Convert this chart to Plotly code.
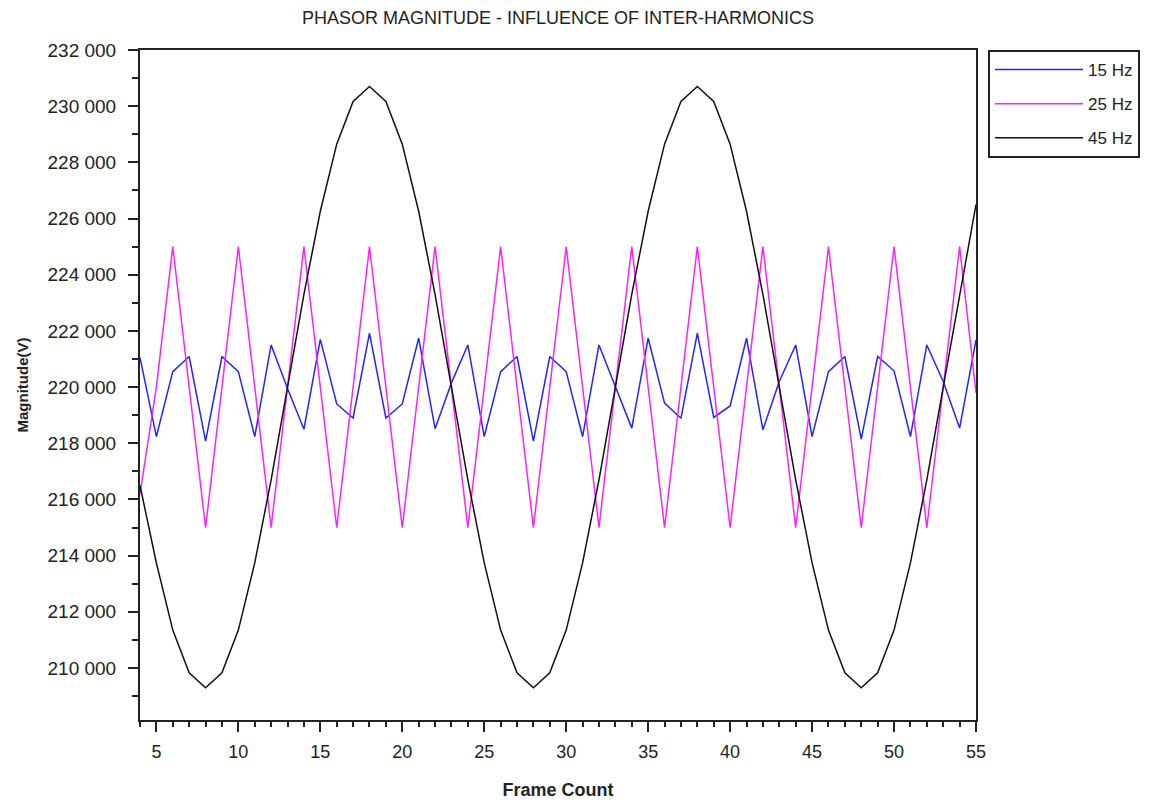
import plotly.graph_objects as go

frames = list(range(4, 56))

hz15 = [221050, 218240, 220550, 221090, 218080, 221090, 220550, 218240, 221500, 219950,
        218500, 221700, 219400, 218900, 221920, 218900, 219400, 221740, 218520, 220150,
        221500, 218240, 220550, 221090, 218080, 221090, 220550, 218240, 221500, 220020,
        218540, 221740, 219430, 218890, 221920, 218920, 219330, 221740, 218480, 220200,
        221500, 218240, 220550, 221090, 218150, 221090, 220580, 218240, 221500, 220200,
        218540, 221680]

hz25 = [216200, 220000, 225000, 220000, 215000, 220000, 225000, 220000, 215000, 220000,
        225000, 220000, 215000, 220000, 225000, 220000, 215000, 220000, 225000, 220000,
        215000, 220000, 225000, 220000, 215000, 220000, 225000, 220000, 215000, 220000,
        225000, 220000, 215000, 220000, 225000, 220000, 215000, 220000, 225000, 220000,
        215000, 220000, 225000, 220000, 215000, 220000, 225000, 220000, 215000, 220000,
        225000, 219800]

hz45 = [216500, 213740, 211350, 209830, 209300, 209830, 211350, 213740, 216700, 220000,
        223300, 226260, 228650, 230170, 230700, 230170, 228650, 226260, 223300, 220000,
        216700, 213740, 211350, 209830, 209300, 209830, 211350, 213740, 216700, 220000,
        223300, 226260, 228650, 230170, 230700, 230170, 228650, 226260, 223300, 220000,
        216700, 213740, 211350, 209830, 209300, 209830, 211350, 213740, 216700, 220000,
        223300, 226500]

series_names = ["15 Hz", "25 Hz", "45 Hz"]
series_colors = ["#2424ff", "#ff22ff", "#111111"]

y_ticks = list(range(210000, 232001, 2000))
x_ticks = [5, 10, 15, 20, 25, 30, 35, 40, 45, 50, 55]

FONT = "Liberation Sans, Arial, sans-serif"
INK = "#222222"

fig = go.Figure()
for name, vals, col in zip(series_names, [hz15, hz25, hz45], series_colors):
    fig.add_trace(go.Scatter(x=frames, y=vals, mode="lines", name=name,
                             legendgroup=name,
                             line=dict(color=col, width=1.5)))

fig.update_layout(
    width=1161, height=800,
    paper_bgcolor="white", plot_bgcolor="white",
    margin=dict(l=140, r=185, t=50, b=80),
    separators=". ",
    font=dict(family=FONT, color=INK, size=17),
    title=dict(text="PHASOR MAGNITUDE - INFLUENCE OF INTER-HARMONICS",
               x=(140 + 976) / 2 / 1161, xanchor="center", y=1 - 18 / 800, yanchor="middle",
               font=dict(family=FONT, size=18, color=INK)),
    showlegend=True,
    legend=dict(x=(988 - 140) / 836, y=1.0, xanchor="left", yanchor="top",
                bgcolor="white", bordercolor=INK, borderwidth=2,
                font=dict(family=FONT, size=17, color=INK),
                itemwidth=88, traceorder="grouped", tracegroupgap=9),
)

fig.update_xaxes(
    range=[4, 55], tickmode="array", tickvals=x_ticks,
    automargin=False,
    ticks="outside", ticklen=10, tickwidth=1.5, tickcolor=INK,
    ticklabelstandoff=4,
    minor=dict(dtick=1, ticks="outside", ticklen=5, tickwidth=1.5, tickcolor=INK),
    showgrid=False, zeroline=False,
    showline=True, linecolor=INK, linewidth=2, mirror=True,
    tickfont=dict(family=FONT, size=18, color=INK),
    title=dict(text="<b>Frame Count</b>", font=dict(family=FONT, size=18, color=INK), standoff=26),
)
fig.update_yaxes(
    range=[208150, 232000], tickmode="array", tickvals=y_ticks,
    automargin=False,
    tickformat=",d",
    ticks="outside", ticklen=10, tickwidth=1.5, tickcolor=INK,
    ticklabelstandoff=8,
    minor=dict(dtick=1000, tick0=0, ticks="outside", ticklen=6, tickwidth=1.5, tickcolor=INK),
    showgrid=False, zeroline=False,
    showline=True, linecolor=INK, linewidth=2, mirror=True,
    tickfont=dict(family=FONT, size=19, color=INK),
    title=dict(text="<b>Magnitude(V)</b>", font=dict(family=FONT, size=15, color=INK), standoff=15),
)

fig.write_html("out.html")
